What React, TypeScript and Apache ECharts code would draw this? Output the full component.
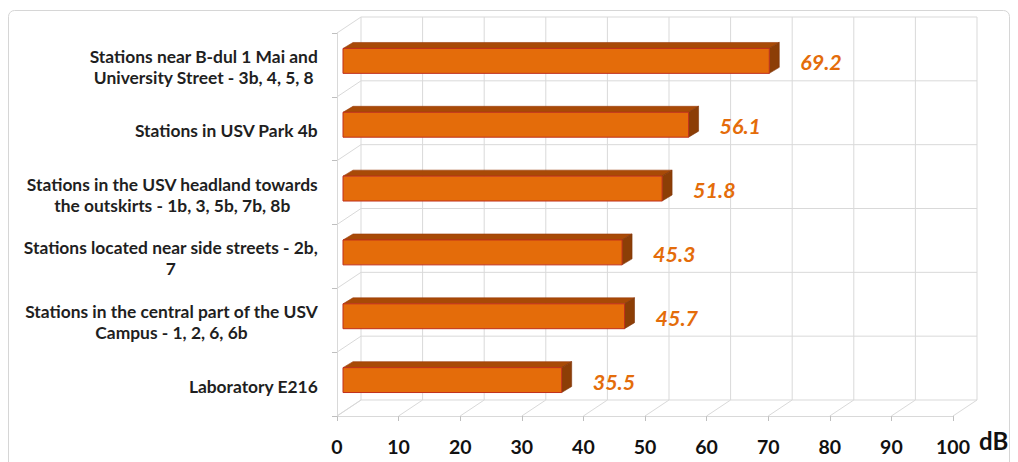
import React, { useEffect, useRef } from "react";
import * as echarts from "echarts";

// Station groups, top to bottom
const categories = [
  "Stations near B-dul 1 Mai and\nUniversity Street - 3b, 4, 5, 8",
  "Stations in USV Park 4b",
  "Stations in the USV headland towards\nthe outskirts - 1b, 3, 5b, 7b, 8b",
  "Stations located near side streets - 2b,\n7",
  "Stations in the central part of the USV\nCampus - 1, 2, 6, 6b",
  "Laboratory E216",
];
// Average noise level, dB
const values = [69.2, 56.1, 51.8, 45.3, 45.7, 35.5];
const xTicks = [0, 10, 20, 30, 40, 50, 60, 70, 80, 90, 100];
const boundaries = [0, 1, 2, 3, 4, 5, 6];

// 3D projection offsets (pixels)
const WALL_DX = 24;
const WALL_DY = -16;
const BAR_OFF_DX = 6;
const BAR_OFF_DY = -4;
const BAR_DEPTH_DX = 10;
const BAR_DEPTH_DY = -6;

const FONT = "Lato";
const GRID_LINE = "#d9d9d9";
const ORANGE = "#E46C0A";

const measureCtx = (() => {
  const c = document.createElement("canvas");
  return c.getContext("2d") as CanvasRenderingContext2D;
})();

function blockWidth(text: string, font: string) {
  measureCtx.font = font;
  return Math.max(...text.split("\n").map((l) => measureCtx.measureText(l).width));
}

export default function App() {
  const ref = useRef<HTMLDivElement>(null);

  useEffect(() => {
    if (!ref.current) return;
    const chart = echarts.init(ref.current, undefined, { renderer: "svg" });

    const labelFontSize = 17.4;
    const labelFont = `bold ${labelFontSize}px ${FONT}`;

    chart.setOption({
      animation: false,
      backgroundColor: "#ffffff",
      graphic: [
        {
          type: "rect",
          shape: { x: 8.5, y: 10.5, width: 1001, height: 470, r: 6 },
          style: { fill: "none", stroke: "#d6d6d6", lineWidth: 1 },
          z: -10,
        },
      ],
      grid: { left: 337, right: 65, top: 33, bottom: 46, containLabel: false },
      xAxis: {
        type: "value",
        min: 0,
        max: 100,
        interval: 10,
        name: "dB",
        nameLocation: "end",
        nameGap: 26,
        nameTextStyle: {
          fontFamily: FONT,
          fontWeight: "bold",
          fontSize: 24,
          color: "#111",
          verticalAlign: "top",
          padding: [12, 0, 0, 0],
        },
        axisLine: { show: true, lineStyle: { color: GRID_LINE, width: 1 } },
        axisTick: { show: true, length: 5, lineStyle: { color: "#bfbfbf" } },
        axisLabel: {
          fontFamily: FONT,
          fontWeight: "bold",
          fontSize: 19.5,
          color: "#111",
          margin: 20,
        },
        splitLine: { show: false },
      },
      yAxis: {
        type: "category",
        inverse: true,
        data: categories,
        axisLine: { show: true, lineStyle: { color: GRID_LINE, width: 1 } },
        axisTick: { show: true, length: 5, lineStyle: { color: "#bfbfbf" } },
        axisLabel: { show: false },
        splitLine: { show: false },
      },
      series: [
        // vertical back-wall gridlines and floor diagonals
        {
          type: "custom",
          z: 1,
          silent: true,
          data: xTicks.map((t) => [t]),
          renderItem: (params: any, api: any) => {
            const cs = params.coordSys;
            const x = api.coord([api.value(0), 0])[0];
            const top = cs.y;
            const bottom = cs.y + cs.height;
            const style = { stroke: GRID_LINE, lineWidth: 1, fill: "none" };
            return {
              type: "group",
              children: [
                {
                  type: "line",
                  shape: { x1: x, y1: bottom, x2: x + WALL_DX, y2: bottom + WALL_DY },
                  style,
                },
                {
                  type: "line",
                  shape: { x1: x + WALL_DX, y1: top + WALL_DY, x2: x + WALL_DX, y2: bottom + WALL_DY },
                  style,
                },
              ],
            };
          },
        },
        // horizontal back-wall gridlines and left-wall diagonals
        {
          type: "custom",
          z: 1,
          silent: true,
          data: boundaries.map((b) => [b]),
          renderItem: (params: any, api: any) => {
            const k = api.value(0);
            const band = api.size([0, 1])[1];
            const idx = Math.min(k, categories.length - 1);
            const c = api.coord([0, idx]);
            const y = k <= categories.length - 1 ? c[1] - band / 2 : c[1] + band / 2;
            const x0 = c[0];
            const x1 = api.coord([100, idx])[0];
            const style = { stroke: GRID_LINE, lineWidth: 1, fill: "none" };
            return {
              type: "group",
              children: [
                {
                  type: "line",
                  shape: { x1: x0 + WALL_DX, y1: y + WALL_DY, x2: x1 + WALL_DX, y2: y + WALL_DY },
                  style,
                },
                {
                  type: "line",
                  shape: { x1: x0, y1: y, x2: x0 + WALL_DX, y2: y + WALL_DY },
                  style,
                },
              ],
            };
          },
        },
        // category labels, lines centred, block right-aligned
        {
          type: "custom",
          z: 3,
          silent: true,
          data: categories.map((_, i) => [i]),
          renderItem: (params: any, api: any) => {
            const i = api.value(0);
            const c = api.coord([0, i]);
            const text = categories[i];
            const w = blockWidth(text, labelFont);
            return {
              type: "text",
              style: {
                text,
                x: c[0] - 19 - w / 2,
                y: c[1] + 2,
                align: "center",
                verticalAlign: "middle",
                font: labelFont,
                lineHeight: 21,
                fill: "#1f1f1f",
              },
            };
          },
        },
        // 3D bars with value labels
        {
          type: "custom",
          z: 5,
          data: values.map((v, i) => [v, i]),
          renderItem: (params: any, api: any) => {
            const v = api.value(0);
            const i = api.value(1);
            const band = api.size([0, 1])[1];
            const h = band * 0.39;
            const p0 = api.coord([0, i]);
            const p1 = api.coord([v, i]);
            const xa = p0[0] + BAR_OFF_DX;
            const xb = p1[0] + BAR_OFF_DX;
            const yc = p0[1] + BAR_OFF_DY;
            const yt = yc - h / 2;
            const yb = yc + h / 2;
            const edge = "#C0301C";
            return {
              type: "group",
              children: [
                {
                  type: "polygon",
                  shape: {
                    points: [
                      [xa, yt],
                      [xb, yt],
                      [xb + BAR_DEPTH_DX, yt + BAR_DEPTH_DY],
                      [xa + BAR_DEPTH_DX, yt + BAR_DEPTH_DY],
                    ],
                  },
                  style: { fill: "#A84A06", stroke: "#9a3a0a", lineWidth: 0.6 },
                },
                {
                  type: "polygon",
                  shape: {
                    points: [
                      [xb, yt],
                      [xb + BAR_DEPTH_DX, yt + BAR_DEPTH_DY],
                      [xb + BAR_DEPTH_DX, yb + BAR_DEPTH_DY],
                      [xb, yb],
                    ],
                  },
                  style: { fill: "#8C3E06", stroke: "#7d340a", lineWidth: 0.6 },
                },
                {
                  type: "rect",
                  shape: { x: xa, y: yt, width: xb - xa, height: h },
                  style: { fill: ORANGE, stroke: edge, lineWidth: 1 },
                },
                {
                  type: "text",
                  style: {
                    text: v.toFixed(1),
                    x: xb + BAR_DEPTH_DX + 21,
                    y: yc + 1.5,
                    align: "left",
                    verticalAlign: "middle",
                    font: `italic bold 21.5px ${FONT}`,
                    fill: ORANGE,
                  },
                },
              ],
            };
          },
        },
      ],
    });

    return () => chart.dispose();
  }, []);

  return (
    <div
      ref={ref}
      style={{ position: "fixed", left: 0, top: 0, width: 1018, height: 462, background: "#fff" }}
    />
  );
}
